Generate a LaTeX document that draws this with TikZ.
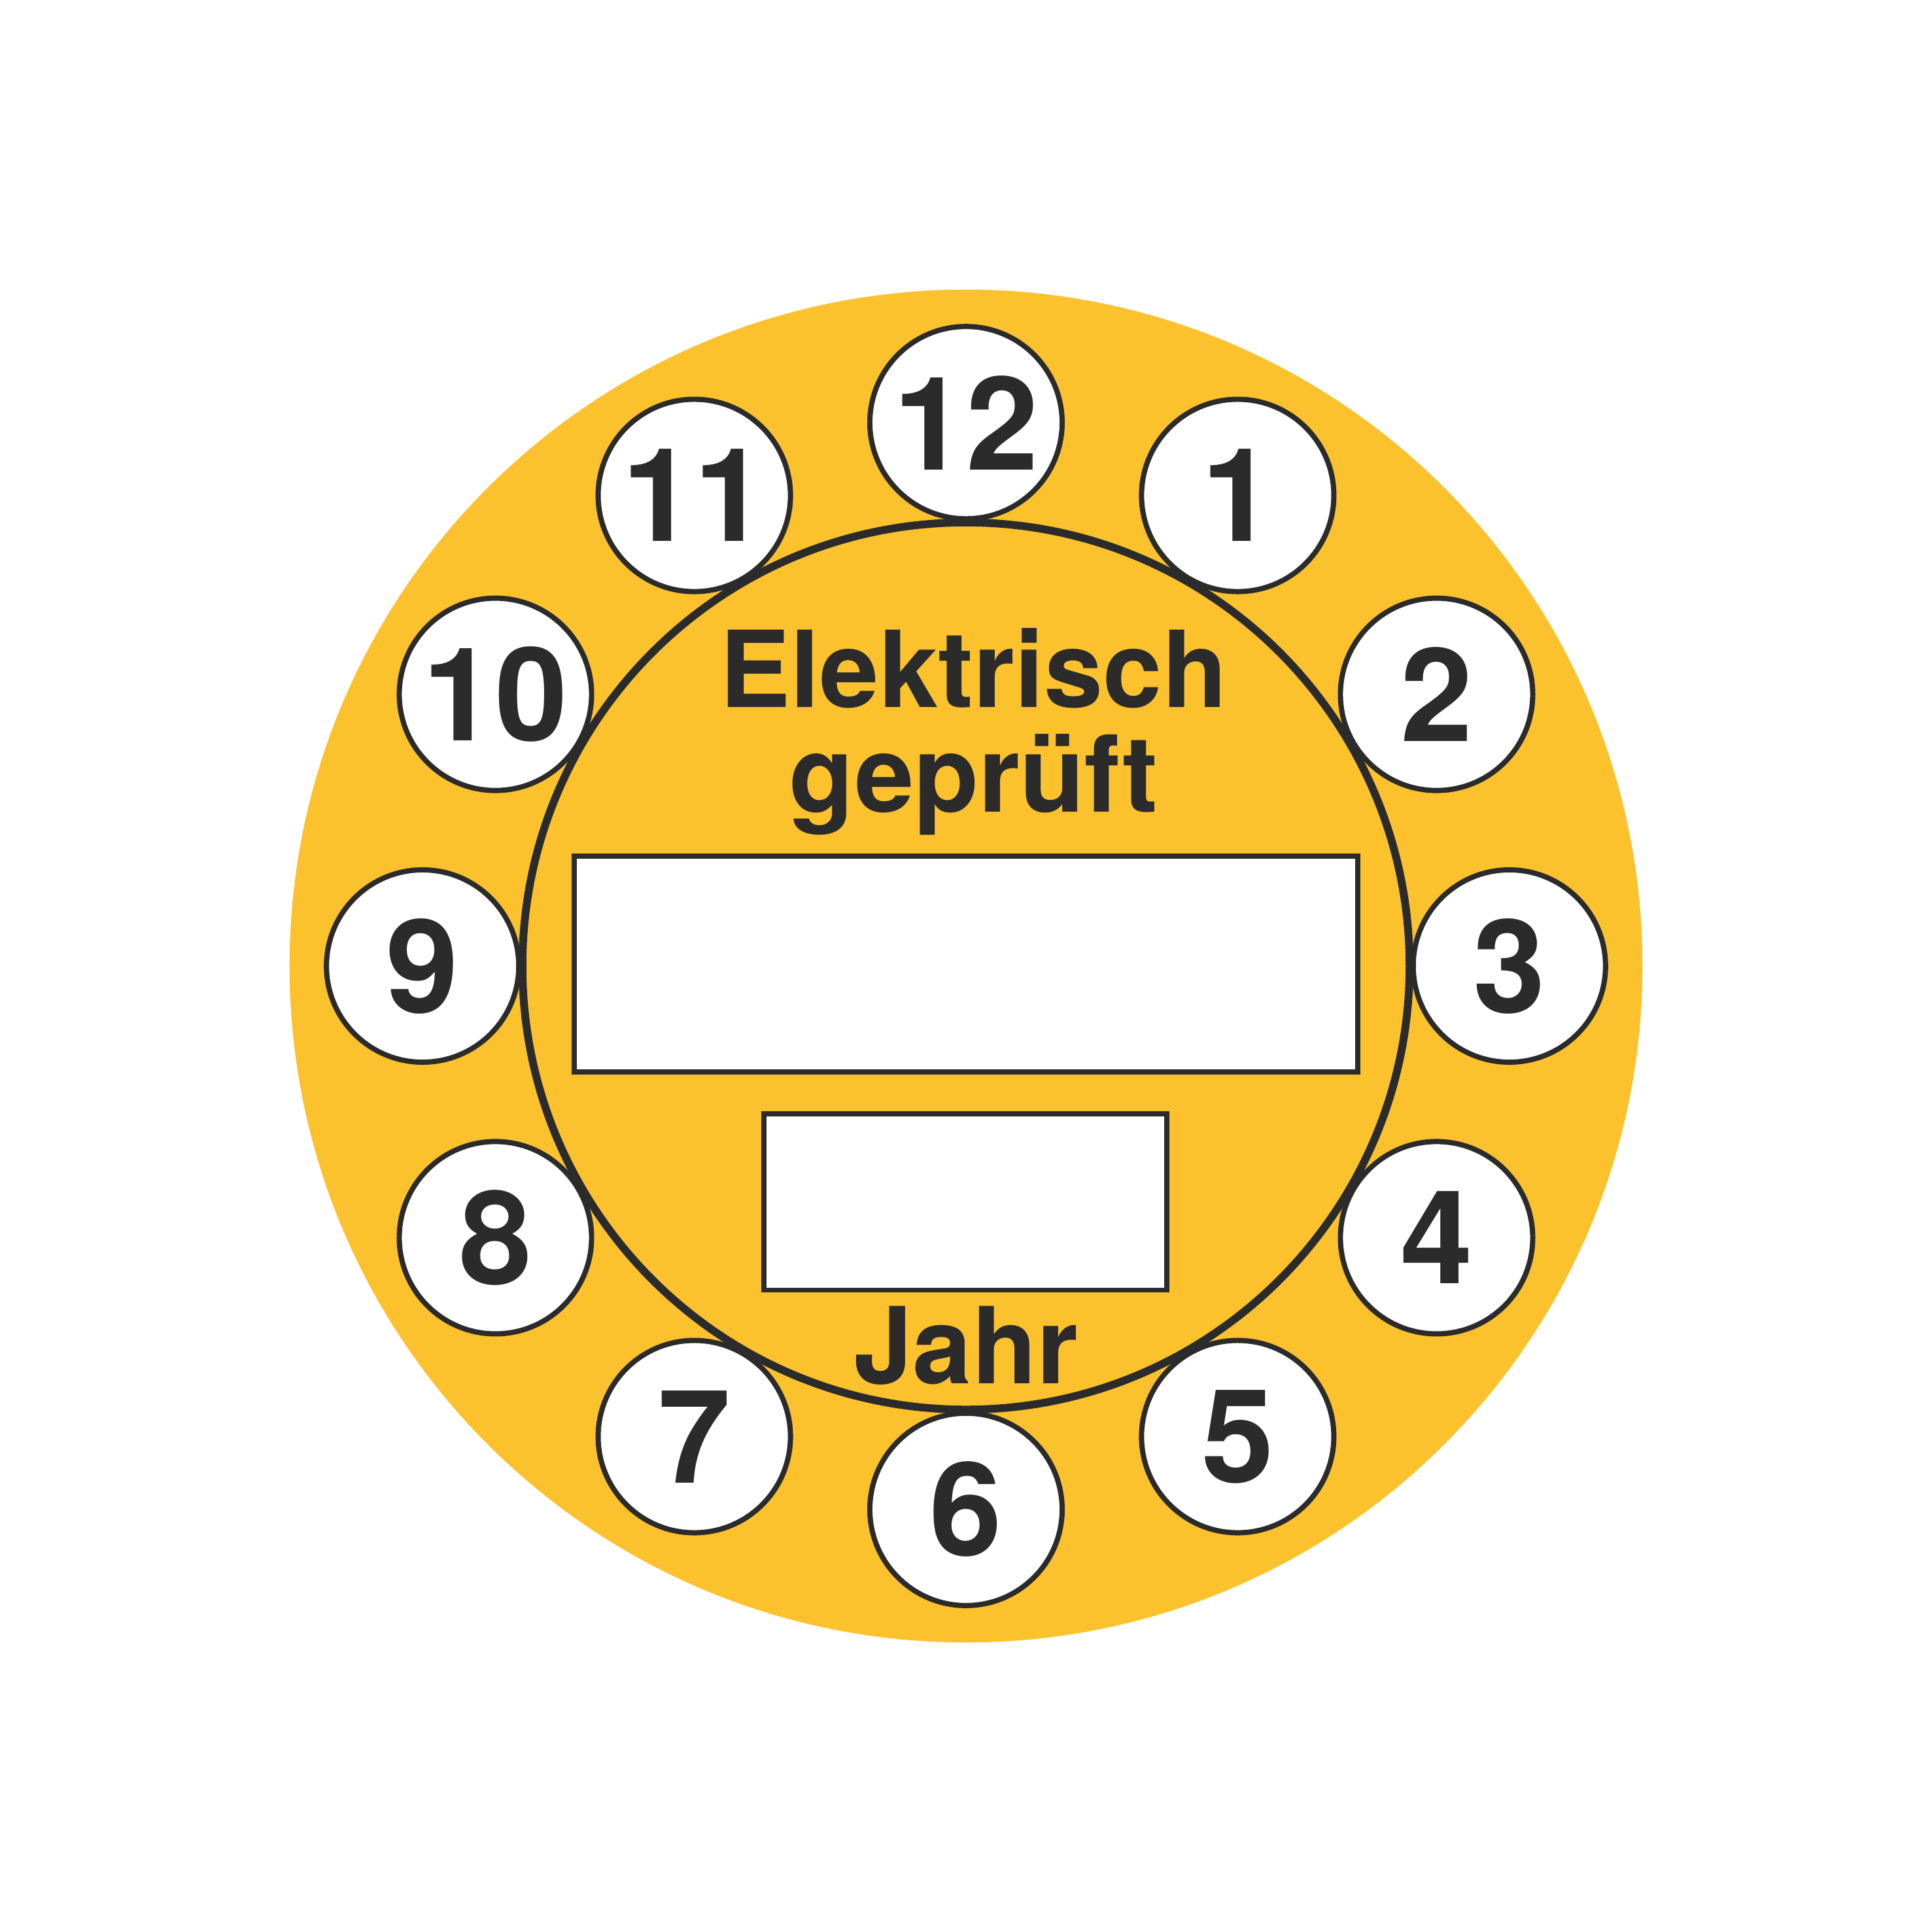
\documentclass[tikz,border=0pt]{standalone}
\usepackage{fontspec}
\setmainfont{TeX Gyre Heros}
\definecolor{yel}{HTML}{FCC22E}
\definecolor{ink}{HTML}{2B2B2B}
\begin{document}
\begin{tikzpicture}[x=0.01cm,y=-0.01cm,
  num/.style={circle,draw=ink,fill=white,line width=1.2pt,minimum size=1.56cm,inner sep=0pt,text=ink,font=\fontsize{30}{30}\selectfont\bfseries},
  lab/.style={text=ink,font=\fontsize{24.5}{26}\selectfont\bfseries,inner sep=0pt},
  box/.style={draw=ink,fill=white,line width=1.2pt}]
\useasboundingbox (0,0) rectangle (1568,1568);
\fill[yel] (784,784) circle[radius=549];
\draw[ink,line width=1.8pt] (784,784) circle[radius=360];
\foreach \n in {1,...,12}{
  \node[num] (n\n) at ({784+441*sin(30*\n)},{784-441*cos(30*\n)}) {\n};
}
\node[lab,anchor=base] (t1) at (790,574) {Elektrisch};
\node[lab,anchor=base] (t2) at (790,659) {geprüft};
\draw[box] (466,695) rectangle (1102,870);
\draw[box] (620,904) rectangle (947,1047);
\node[lab,anchor=base] (t3) at (784,1123) {Jahr};
\end{tikzpicture}
\end{document}
